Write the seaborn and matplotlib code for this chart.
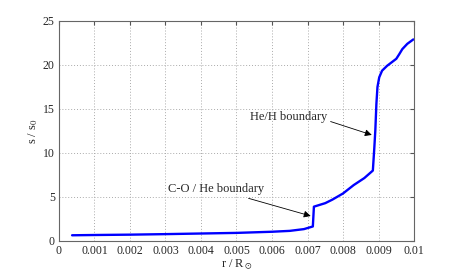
import matplotlib
matplotlib.use("Agg")
import matplotlib.pyplot as plt
import seaborn as sns
import pandas as pd

# data
r = [0.00037, 0.001, 0.002, 0.003, 0.004, 0.005, 0.006, 0.0065, 0.0069, 0.00715,
     0.00718, 0.0075, 0.0077, 0.008, 0.0083, 0.0086, 0.00884, 0.00888, 0.00891,
     0.00894, 0.00897, 0.00902, 0.0091, 0.00924, 0.0095, 0.00958, 0.00967,
     0.00981, 0.00998]
s = [0.65, 0.68, 0.72, 0.78, 0.85, 0.92, 1.05, 1.15, 1.35, 1.65,
     3.9, 4.3, 4.7, 5.4, 6.35, 7.15, 8.0, 10.5, 12.6,
     15.6, 17.5, 18.6, 19.35, 19.9, 20.7, 21.2, 21.8,
     22.4, 22.9]
xticks = [0, 0.001, 0.002, 0.003, 0.004, 0.005, 0.006, 0.007, 0.008, 0.009, 0.01]
xticklabels = ["0", "0.001", "0.002", "0.003", "0.004", "0.005", "0.006",
               "0.007", "0.008", "0.009", "0.01"]
yticks = [0, 5, 10, 15, 20, 25]

sns.set_style("white")
plt.rcParams['font.family'] = ['Liberation Serif', 'DejaVu Serif']
plt.rcParams['mathtext.fontset'] = 'stix'

df = pd.DataFrame({"r": r, "s": s})
fig = plt.figure(figsize=(4.57, 2.72), dpi=100)
ax = fig.add_axes([0.129, 0.114, 0.777, 0.809])
sns.lineplot(data=df, x="r", y="s", ax=ax, color="#0000ff", linewidth=1.7,
             estimator=None, sort=False)

ax.set_xlim(0, 0.01)
ax.set_ylim(0, 25)
ax.set_xticks(xticks)
ax.set_xticklabels(xticklabels)
ax.set_yticks(yticks)
ax.tick_params(labelsize=8.5, direction="in", length=3, color="#555555",
               top=True, right=True, pad=3)
ax.grid(True, linestyle=(0, (1, 2)), color="#aaaaaa", linewidth=0.7)
for sp in ax.spines.values():
    sp.set_color("#666666")
    sp.set_linewidth(0.8)
ax.set_xlabel(r"r / R$_\odot$", fontsize=9, labelpad=0)
ax.set_ylabel(r"s / s$_0$", fontsize=9, labelpad=2)

ax.annotate("C-O / He boundary", xy=(0.00709, 2.84), xytext=(0.00442, 5.9),
            ha="center", va="center", fontsize=9,
            arrowprops=dict(arrowstyle="-|>", color="black", lw=0.6,
                            shrinkA=0, shrinkB=0, mutation_scale=10),
            annotation_clip=False)
ax.annotate("He/H boundary", xy=(0.00881, 12.05), xytext=(0.00647, 14.1),
            ha="center", va="center", fontsize=9,
            arrowprops=dict(arrowstyle="-|>", color="black", lw=0.6,
                            shrinkA=0, shrinkB=0, mutation_scale=10,
                            relpos=(1.0, 0.2)),
            annotation_clip=False)

fig.savefig("out.png", dpi=100)
